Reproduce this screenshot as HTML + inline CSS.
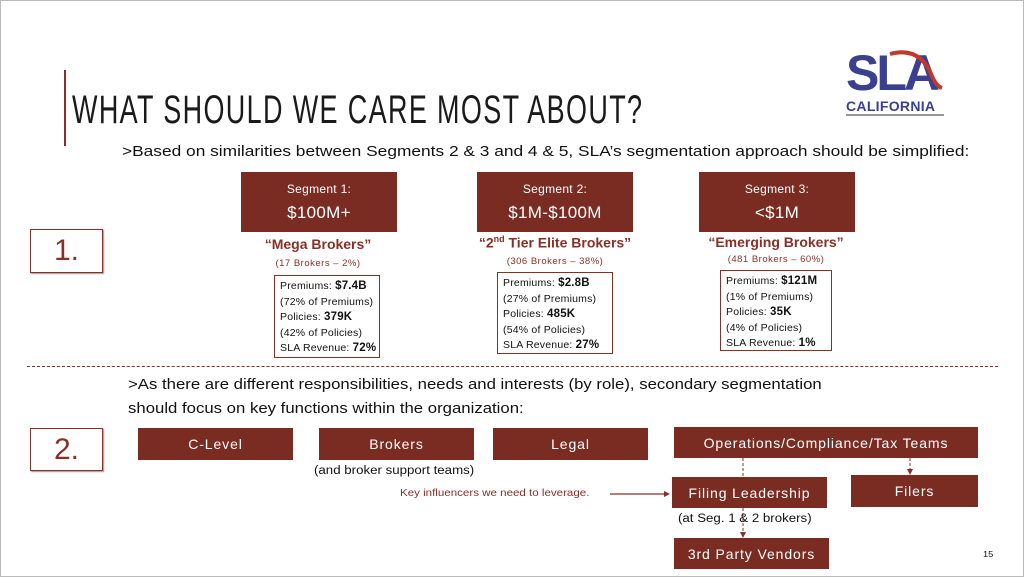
<!DOCTYPE html>
<html><head><meta charset="utf-8"><style>
*{margin:0;padding:0;box-sizing:border-box}
body{width:1024px;height:577px;background:#fff;position:relative;overflow:hidden;font-family:"Liberation Sans",sans-serif;color:#111}
.frame{position:absolute;left:0;top:0;width:1024px;height:577px;border:1px solid #bbb}
.a{position:absolute}
.box{position:absolute;background:#7b2c22;color:#fff;display:flex;align-items:center;justify-content:center;text-align:center;font-size:14px;letter-spacing:0.9px}
.seg{flex-direction:column;font-size:12px;line-height:1;letter-spacing:0.3px}
.seg b{font-weight:normal;font-size:17px;margin-top:9px}
.num{position:absolute;border:1.5px solid #8a2f25;color:#8a2f25;font-size:30px;display:flex;align-items:center;justify-content:center;box-shadow:1px 1px 1px #999}
.lbl{position:absolute;color:#8a2f25;font-weight:bold;font-size:14px;text-align:center;white-space:nowrap}
.sub{position:absolute;color:#8a2f25;font-size:9.5px;text-align:center;white-space:nowrap;letter-spacing:0.5px}
.data{position:absolute;border:1.5px solid #8a2f25;font-size:10.5px;line-height:15.5px;padding:3px 0 0 5px;white-space:nowrap;letter-spacing:0.2px}
.data b{font-size:11.5px}
.t{position:absolute;font-size:14.5px;white-space:nowrap;transform:scaleX(1.155);transform-origin:0 0}
</style></head><body>
<div class="frame"></div>
<div class="a" style="left:64px;top:70px;width:2px;height:76px;background:#8a2f25"></div>
<div class="a" style="left:72px;top:88px;font-size:40px;letter-spacing:2px;transform:scaleX(0.675);transform-origin:0 0;white-space:nowrap;color:#1a1a1a">WHAT SHOULD WE CARE MOST ABOUT?</div>
<!-- logo -->
<div class="a" style="left:846px;top:48px;font-size:50px;font-weight:bold;color:#3a3f8f;letter-spacing:-3px;line-height:50px">SLA</div>
<svg class="a" style="left:880px;top:46px" width="70" height="50"><path d="M10 8 Q40 0 52 30 Q56 40 62 42" stroke="#c0392b" stroke-width="4" fill="none"/></svg>
<div class="a" style="left:846px;top:98px;font-size:14px;font-weight:bold;color:#3a3f8f;letter-spacing:0.3px">CALIFORNIA</div>
<div class="a" style="left:846px;top:114px;width:98px;height:2px;background:#999"></div>
<div class="t" style="left:122px;top:143px;font-size:15px">&gt;Based on similarities between Segments 2 &amp; 3 and 4 &amp; 5, SLA’s segmentation approach should be simplified:</div>

<div class="box seg" style="left:241px;top:172px;width:156px;height:60px">Segment 1:<b>$100M+</b></div>
<div class="box seg" style="left:477px;top:172px;width:156px;height:60px">Segment 2:<b>$1M-$100M</b></div>
<div class="box seg" style="left:699px;top:172px;width:156px;height:60px">Segment 3:<b>&lt;$1M</b></div>
<div class="num" style="left:30px;top:229px;width:73px;height:44px">1.</div>

<div class="lbl" style="left:218px;top:236px;width:200px">“Mega Brokers”</div>
<div class="sub" style="left:218px;top:258px;width:200px">(17 Brokers – 2%)</div>
<div class="lbl" style="left:455px;top:234px;width:200px">“2<sup style="font-size:9px">nd</sup> Tier Elite Brokers”</div>
<div class="sub" style="left:455px;top:256px;width:200px">(306 Brokers – 38%)</div>
<div class="lbl" style="left:676px;top:234px;width:200px">“Emerging Brokers”</div>
<div class="sub" style="left:676px;top:254px;width:200px">(481 Brokers – 60%)</div>

<div class="data" style="left:274px;top:275px;width:106px;height:83px">Premiums: <b>$7.4B</b><br>(72% of Premiums)<br>Policies: <b>379K</b><br>(42% of Policies)<br>SLA Revenue: <b>72%</b></div>
<div class="data" style="left:497px;top:272px;width:116px;height:82px">Premiums: <b>$2.8B</b><br>(27% of Premiums)<br>Policies: <b>485K</b><br>(54% of Policies)<br>SLA Revenue: <b>27%</b></div>
<div class="data" style="left:720px;top:270px;width:112px;height:81px">Premiums: <b>$121M</b><br>(1% of Premiums)<br>Policies: <b>35K</b><br>(4% of Policies)<br>SLA Revenue: <b>1%</b></div>

<div class="a" style="left:27px;top:366px;width:971px;border-top:1.5px dashed #8a2f25"></div>
<div class="t" style="left:128px;top:377px">&gt;As there are different responsibilities, needs and interests (by role), secondary segmentation</div>
<div class="t" style="left:128px;top:401px">should focus on key functions within the organization:</div>

<div class="num" style="left:30px;top:428px;width:73px;height:43px">2.</div>
<div class="box" style="left:138px;top:428px;width:155px;height:32px">C-Level</div>
<div class="box" style="left:319px;top:428px;width:155px;height:32px">Brokers</div>
<div class="box" style="left:493px;top:428px;width:155px;height:32px">Legal</div>
<div class="box" style="left:674px;top:427px;width:304px;height:31px">Operations/Compliance/Tax Teams</div>
<div class="box" style="left:672px;top:477px;width:155px;height:31px">Filing Leadership</div>
<div class="box" style="left:851px;top:475px;width:127px;height:32px">Filers</div>
<div class="box" style="left:674px;top:538px;width:155px;height:31px">3rd Party Vendors</div>
<div class="t" style="left:314px;top:465px;font-size:11.5px">(and broker support teams)</div>
<div class="t" style="left:678px;top:513px;font-size:11.5px">(at Seg. 1 &amp; 2 brokers)</div>
<div class="t" style="left:400px;top:488px;font-size:10px;color:#8a2f25">Key influencers we need to leverage.</div>
<svg class="a" style="left:0;top:0" width="1024" height="577">
<line x1="610" y1="494" x2="664" y2="494" stroke="#8a2f25" stroke-width="1.3"/>
<polygon points="664,491 670,494 664,497" fill="#8a2f25"/>
<line x1="743" y1="458" x2="743" y2="477" stroke="#8a2f25" stroke-dasharray="3,2"/>
<line x1="743" y1="508" x2="743" y2="534" stroke="#8a2f25" stroke-dasharray="3,2"/>
<polygon points="740,532 743,538 746,532" fill="#8a2f25"/>
<line x1="910" y1="458" x2="910" y2="471" stroke="#8a2f25" stroke-dasharray="3,2"/>
<polygon points="907,469 910,475 913,469" fill="#8a2f25"/>
</svg>
<div class="t" style="left:983px;top:550px;font-size:8px">15</div>
</body></html>
